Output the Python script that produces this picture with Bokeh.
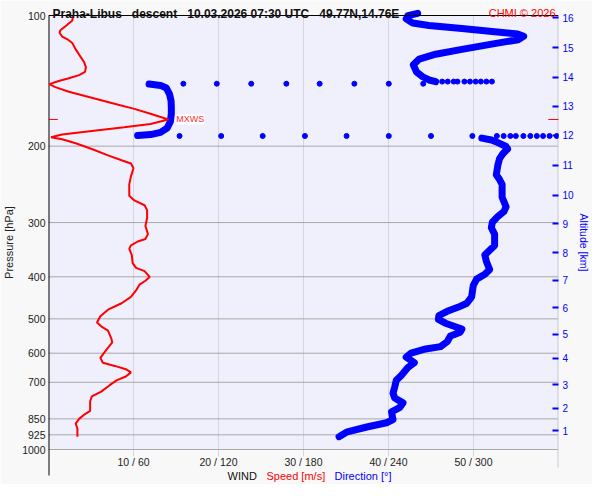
from bokeh.plotting import figure
from bokeh.models import Range1d, FixedTicker, LogAxis, Label, Span, BoxAnnotation
from bokeh.embed import file_html
from bokeh.resources import INLINE

FONT = "Liberation Sans"
RED = "#ff0000"
BLUE = "#0000ff"

# ---- wind speed profile [m/s] vs pressure [hPa]
speed_p = [100.1, 102.7, 105.4, 108.1, 109.6, 111.8, 113.7, 115.7, 119.7, 123.9, 128.2, 131.5, 134.9,
           137.2, 139.5, 141.5, 143.9, 146.2, 149.9, 153.3, 156.7, 160.5, 164.1, 168.4, 173.6, 177.8,
           180.9, 184.6, 188.1, 190.7, 192.9, 197.0, 203.0, 210.1, 215.6, 219.3, 224.9, 234.8, 245.0,
           260.1, 266.8, 273.7, 280.8, 292.9, 305.6, 319.0, 327.3, 331.7, 338.6, 344.5, 356.4, 372.0,
           381.6, 388.2, 400.3, 408.5, 417.0, 430.0, 444.9, 460.3, 476.3, 492.9, 509.8, 520.3, 532.1,
           555.3, 566.8, 589.5, 615.0, 631.0, 641.8, 653.1, 664.2, 678.9, 692.9, 710.9, 735.6, 754.6,
           774.1, 814.7, 828.6, 850.0, 872.0, 894.6, 934.1]
speed_v = [2.9, 2.8, 2.1, 1.4, 1.3, 1.6, 2.3, 2.8, 3.2, 3.7, 4.2, 4.4, 4.3,
           3.6, 2.4, 1.2, 0.1, 0.8, 2.4, 4.3, 6.2, 8.2, 10.1, 12.0, 14.1, 12.0,
           8.9, 5.1, 1.6, 0.3, 1.6, 3.2, 5.1, 7.0, 8.6, 9.7, 10.0, 9.7, 9.5,
           9.5, 10.1, 11.3, 11.6, 11.6, 11.4, 11.7, 11.4, 10.5, 9.7, 9.5, 9.8, 9.9,
           10.3, 11.3, 11.9, 11.4, 10.7, 10.3, 9.7, 8.6, 7.0, 6.1, 5.7, 6.2, 7.0,
           7.4, 7.5, 6.8, 6.1, 6.4, 7.8, 9.1, 9.7, 9.1, 8.0, 7.2, 6.2, 5.1,
           4.9, 4.9, 4.3, 3.6, 3.2, 3.4, 3.4]

# ---- wind direction profile [deg] vs pressure [hPa]
dir_top_p = [98.9, 100.1, 101.8, 104.1, 105.4, 107.1, 109.0, 110.3, 111.7, 113.7, 116.1, 119.7,
             122.8, 126.0, 129.9, 134.9, 138.4, 140.8, 142.0]
dir_top_v = [260.6, 253.7, 252.5, 257.1, 268.6, 291.8, 314.9, 331.1, 335.4, 331.5, 314.9, 291.8,
             273.3, 261.7, 257.5, 259.8, 264.1, 268.6, 273.3]

dir_mid_p = [143.9, 144.9, 146.9, 152.0, 157.2, 162.7, 168.4, 175.7, 181.8, 185.9, 188.1, 189.0]
dir_mid_v = [71.0, 79.1, 83.2, 85.5, 86.5, 86.7, 86.7, 86.0, 83.7, 79.1, 72.1, 62.9]

dir_low_p = [191.6, 193.6, 196.3, 200.4, 203.0, 208.3, 213.7, 221.1, 232.8, 238.8, 245.0, 262.3,
             276.0, 283.1, 290.4, 299.5, 308.3, 319.0, 338.6, 347.4, 356.4, 368.8, 384.8, 394.8,
             405.0, 419.3, 444.9, 460.3, 469.7, 480.4, 491.2, 501.3, 511.6, 527.6, 536.5, 547.6,
             564.7, 579.4, 586.5, 599.6, 612.9, 631.0, 647.4, 675.3, 692.9, 717.2, 742.0, 761.2,
             780.9, 801.1, 819.0, 853.1, 867.6, 887.4, 910.6, 934.1]
dir_low_v = [305.9, 312.7, 317.2, 323.0, 324.1, 320.7, 318.4, 317.2, 316.1, 318.4, 320.2, 320.2,
             323.0, 321.4, 317.2, 313.3, 312.6, 314.9, 314.9, 311.4, 308.0, 309.1, 311.4, 308.0,
             302.2, 299.8, 298.7, 295.3, 289.4, 281.4, 275.6, 275.2, 280.2, 291.8, 290.6, 283.7,
             281.4, 276.7, 266.3, 255.9, 252.5, 258.2, 253.7, 249.0, 245.5, 244.4, 243.2, 244.4,
             250.2, 247.8, 242.1, 243.2, 238.6, 224.7, 210.9, 205.1]

# isolated direction samples (rapid turning near calm levels)
row1_p_dense = 142.0
row1_v_dense = [277.9, 281.8, 286.0, 288.7, 293.6, 297.5, 301.5, 305.2, 309.1, 313.0]
row1_p_sparse = 143.6
row1_v_sparse = [264.5, 240.2, 215.9, 191.4, 167.9, 143.1, 118.8, 95.2]
row2_p = 189.5
row2_v = [92.5, 121.9, 151.2, 181.0, 210.4, 240.2, 270.0, 299.2,
          316.5, 321.3, 326.0, 329.9, 335.2, 340.1, 344.7, 349.1, 353.7, 358.8]

# max wind
mxws_p = 173.6
mxws_v = 14.1

# ---- axes / ticks
p_ticks = [100, 200, 300, 400, 500, 600, 700, 850, 925, 1000]
alt_km = [1, 2, 3, 4, 5, 6, 7, 8, 9, 10, 11, 12, 13, 14, 15, 16]
alt_p = [906.1, 803.8, 708.7, 616.2, 542.1, 470.8, 407.9, 352.3, 301.7, 259.3, 221.2, 189.0,
         161.7, 138.7, 118.7, 101.1]
speed_ticks = [0, 10, 20, 30, 40, 50, 60]
dir_ticks = [0, 60, 120, 180, 240, 300, 360]

NB = "\u00a0"
title_text = f"Praha-Libus{NB*3}descent{NB*3}10.03.2026 07:30 UTC{NB*3}49.77N,14.76E"

# ---- layout (pixels)
W, H = 592, 484
LEFT, RIGHT = 46, 29
TOP_PX, DECADE_PX = 15, 434          # 100 hPa at 15 px, 434 px per decade
P_TOP, P_BOT = p_ticks[0], p_ticks[-1]
y_hi = P_TOP * 10 ** (-TOP_PX / DECADE_PX)
y_lo = P_TOP * 10 ** ((H - TOP_PX) / DECADE_PX)
def below_bottom(px):                # pressure that lies px pixels under the 1000 hPa line
    return P_BOT * 10 ** (px / DECADE_PX)

BG_OUT = "#f8f8f8"
BG_IN = "#f0f0fd"

p = figure(width=W, height=H, output_backend="svg", toolbar_location=None,
           x_range=Range1d(speed_ticks[0], speed_ticks[-1]), y_range=Range1d(y_lo, y_hi),
           y_axis_type="log", x_axis_location=None,
           min_border_left=LEFT, min_border_right=RIGHT, min_border_top=0, min_border_bottom=0,
           background_fill_color=BG_OUT, border_fill_color=BG_OUT, outline_line_color=None)
p.title.visible = False
p.extra_x_ranges = {"dir": Range1d(dir_ticks[0], dir_ticks[-1])}
p.grid.visible = False

# plotting area
p.add_layout(BoxAnnotation(left=speed_ticks[0], right=speed_ticks[-1], bottom=P_BOT, top=P_TOP,
                           fill_color=BG_IN, fill_alpha=1, line_color=None, level="underlay"))

# left pressure axis
yl = p.yaxis[0]
yl.ticker = FixedTicker(ticks=p_ticks)
yl.major_label_overrides = {t: str(t) for t in p_ticks}
yl.axis_line_color = None
yl.major_tick_out = 0
yl.major_tick_in = 0
yl.minor_tick_line_color = None
yl.major_label_standoff = 3
yl.major_label_text_font = FONT
yl.major_label_text_font_size = "10.5px"
yl.major_label_text_color = "#222222"
yl.axis_label = "Pressure [hPa]"
yl.axis_label_standoff = 4
yl.axis_label_text_font = FONT
yl.axis_label_text_font_size = "11px"
yl.axis_label_text_font_style = "normal"
yl.axis_label_text_color = "#222222"

# right altitude axis
yr = LogAxis(ticker=FixedTicker(ticks=alt_p),
             major_label_overrides={pp: str(k) for pp, k in zip(alt_p, alt_km)})
yr.axis_line_color = None
yr.major_tick_in = 6
yr.major_tick_out = 0
yr.major_tick_line_color = BLUE
yr.major_tick_line_width = 2
yr.minor_tick_line_color = None
yr.major_label_standoff = 4
yr.major_label_text_font = FONT
yr.major_label_text_font_size = "10px"
yr.major_label_text_color = BLUE
yr.axis_label = "Altitude [km]"
yr.axis_label_standoff = 1
yr.axis_label_text_font = FONT
yr.axis_label_text_font_size = "10.5px"
yr.axis_label_text_font_style = "normal"
yr.axis_label_text_color = BLUE
p.add_layout(yr, "right")

# grid lines
inner = speed_ticks[1:-1]
p.segment(x0=inner, x1=inner, y0=[below_bottom(7)] * len(inner), y1=[P_TOP] * len(inner),
          line_color="#d6d6e0", line_width=1)
hl = p_ticks[1:]
p.segment(x0=[speed_ticks[0]] * len(hl), x1=[speed_ticks[-1]] * len(hl), y0=hl, y1=hl,
          line_color="#a8a8a8", line_width=1)
# frame edges
p.segment(x0=[speed_ticks[0]], x1=[speed_ticks[0]], y0=[below_bottom(26)], y1=[P_TOP],
          line_color="black", line_width=2)
p.segment(x0=[speed_ticks[-1]], x1=[speed_ticks[-1]], y0=[below_bottom(18)], y1=[P_TOP],
          line_color="#c8c8d6", line_width=2)
p.add_layout(Span(location=P_TOP, dimension="width", line_color="black", line_width=1))

# wind direction (blue)
for xs, ys in ((dir_top_v, dir_top_p), (dir_mid_v, dir_mid_p), (dir_low_v, dir_low_p)):
    p.line(xs, ys, x_range_name="dir", line_color=BLUE, line_width=7,
           line_join="round", line_cap="round")
p.scatter(row1_v_dense, [row1_p_dense] * len(row1_v_dense), x_range_name="dir",
          size=5, color=BLUE)
p.scatter(row1_v_sparse, [row1_p_sparse] * len(row1_v_sparse), x_range_name="dir",
          size=5, color=BLUE)
p.scatter(row2_v, [row2_p] * len(row2_v), x_range_name="dir", size=5, color=BLUE)

# wind speed (red)
p.line(speed_v, speed_p, line_color=RED, line_width=2)

# max wind markers
p.segment(x0=[-0.4, 58.8], y0=[mxws_p, mxws_p], x1=[1.1, 60.4], y1=[mxws_p, mxws_p],
          line_color=RED, line_width=1)
p.add_layout(Label(x=mxws_v, y=mxws_p, x_offset=8, text="MXWS", text_font=FONT,
                   text_font_size="9px", text_color="#ff3030", text_baseline="middle",
                   background_fill_color="white", background_fill_alpha=0.9))

# wind tick labels (speed / direction)
for s, d in zip(inner, dir_ticks[1:-1]):
    p.add_layout(Label(x=s, y=P_BOT, y_offset=-12, text=f"{s} / {d}", text_font=FONT,
                       text_font_size="10.5px", text_color="#222222",
                       text_align="center", text_baseline="middle"))

# title and copyright
p.add_layout(Label(x=4, y=H - 13, x_units="screen", y_units="screen", text=title_text,
                   text_font=FONT, text_font_size="12px", text_font_style="bold",
                   text_color="#111111", text_baseline="alphabetic"))
p.add_layout(Label(x=speed_ticks[-1], y=P_TOP, x_offset=-3, y_offset=3,
                   text="CHMI \u00a9 2026", text_font=FONT, text_font_size="11px",
                   text_color=RED, text_align="right", text_baseline="alphabetic"))

# bottom caption (three colours)
for x, txt, col in ((179, "WIND", "#111111"), (218, "Speed [m/s]", RED),
                    (286, "Direction [\u00b0]", BLUE)):
    p.add_layout(Label(x=x, y=9, x_units="screen", y_units="screen", text=txt,
                       text_font=FONT, text_font_size="11px", text_color=col,
                       text_align="left", text_baseline="alphabetic"))

open("out.html", "w").write(file_html(p, INLINE))
